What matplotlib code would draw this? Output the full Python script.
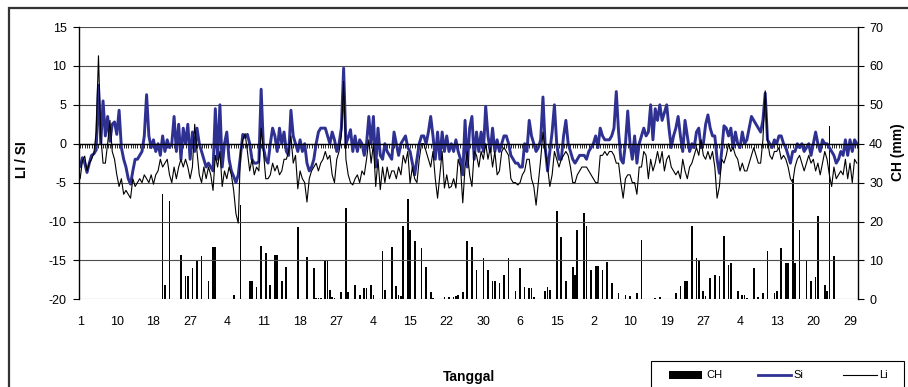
import numpy as np
import matplotlib
matplotlib.use('Agg')
import matplotlib.pyplot as plt
from matplotlib.patches import Rectangle
from matplotlib.lines import Line2D

plt.rcParams['font.family'] = ['Liberation Sans', 'DejaVu Sans']
plt.rcParams['axes.unicode_minus'] = False

# ---------------- data ----------------
date_labels = ['1', '10', '18', '27', '4', '11', '18', '27', '4', '15', '22',
               '30', '6', '15', '2', '10', '19', '27', '4', '13', '20', '29']
label_step = 16

si = [
    -2.9, -1.8, -2.5, -3.7, -2.5, -1.5, -1.3, -0.8, 7.5, 0.0,
    5.5, 1.0, 3.5, 0.3, 2.5, 2.8, 1.2, 4.3, -0.5, -2.0,
    -3.0, -4.5, -5.2, -3.5, -2.0, -2.0, -1.5, -1.0, 1.0, 6.3,
    1.0, -0.5, 0.5, -1.0, 0.0, -1.5, 1.0, -1.0, 0.5, -0.5,
    0.0, 3.5, -1.0, 2.5, -2.0, 2.0, 0.0, 2.5, -2.0, 1.5,
    -1.0, 2.0, 0.0, -1.0, -2.0, -3.0, -2.5, -3.0, -3.5, 4.5,
    -2.0, 5.0, -3.0, 0.0, 1.5, -2.0, -3.5, -4.2, -5.0, -4.0,
    -1.5, 1.2, 0.8, 1.2, 0.0, -2.0, -2.5, -2.5, -2.3, 7.0,
    -0.5, -2.0, -2.5, 0.0, 2.0, 1.0, -1.0, 2.0, 0.0, 1.5,
    -1.0, -1.5, 4.3, 1.0, 0.0, -1.0, 0.5, -1.0, 0.0, -2.5,
    -3.5, -3.0, -2.0, 0.0, 1.5, 2.0, 2.0, 2.0, 1.0, 0.0,
    1.5, 0.5, -1.0, 0.0, 2.0, 9.7, 0.0, 0.8, 1.8, -1.0,
    1.0, -1.0, 0.5, 0.0, -1.5, 0.0, 3.5, 0.0, 3.5, -3.0,
    2.0, -1.5, -2.0, 0.0, -1.0, -1.5, -2.0, 1.5, 0.0, -1.5,
    0.0, 0.5, 1.0, -0.5, -1.0, -2.5, -4.0, -2.0, 0.0, 1.0,
    1.0, 0.0, 1.5, 3.5, 1.0, -2.0, 1.5, -2.0, 1.5, -1.0,
    1.0, -1.0, 0.0, -1.0, 0.5, -1.0, -2.0, -4.0, 3.0, -3.0,
    2.0, 3.5, -2.0, 1.5, -1.0, 1.5, -1.0, 4.8, 1.0, -1.0,
    2.0, -1.0, 0.5, -1.0, 0.0, 1.0, 1.0, 0.0, -1.5, -2.0,
    -2.5, -2.5, -3.0, -3.0, 0.0, -1.0, 3.0, 1.0, 0.0, -1.0,
    -0.5, 0.5, 6.0, -0.5, -3.5, -1.0, 1.5, 5.0, 0.0, -2.0,
    -2.0, 1.0, 3.0, 0.0, -1.0, -2.0, -2.5, -2.0, -1.5, -1.5,
    -1.5, -2.0, -1.0, -0.5, 0.0, 1.0, -0.5, 2.0, 1.0, 0.5,
    0.5, 0.5, 1.0, 2.0, 6.7, 1.5, -2.0, -2.5, 0.0, 4.2,
    0.0, -2.0, 1.0, -2.5, 0.0, 1.0, 2.0, 1.0, 1.5, 5.0,
    0.5, 4.5, 3.0, 5.0, 3.0, 4.0, 5.0, 2.0, -0.5, 1.0,
    2.0, 3.5, 1.0, -1.0, 3.0, 1.0, -1.0, 0.0, -0.5, 1.5,
    2.0, -0.5, 0.0, 2.5, 3.7, 2.0, 1.0, 1.0, -2.0, -3.8,
    -1.0, 2.3, 2.0, 1.0, 2.0, -0.5, 1.5, 0.0, -0.5, 1.5,
    0.0, 0.5, 2.0, 3.5, 3.0, 2.5, 2.0, 1.5, 3.0, 6.5,
    0.5, 0.0, -0.5, 0.5, 0.0, 1.0, 1.0, 0.0, -0.5, -1.5,
    -2.5, -1.0, -1.0, 0.0, -0.5, 0.0, -1.0, -0.5, 0.0, -1.5,
    0.0, 1.5, 0.0, -1.0, 0.5, 0.0, 0.0, -0.5, -1.0, -1.5,
    -2.5, -2.0, -1.0, -1.5, 0.5, -1.5, 0.5, -1.0, 0.5, 0.0,
]

li = [
    -4.5, -2.2, -1.6, -3.5, -2.5, -2.0, -1.2, 1.5, 11.3, 1.0,
    -2.5, -2.5, 0.0, 3.0, -1.0, -2.0, -4.0, -5.5, -4.5, -6.5,
    -6.0, -6.5, -7.0, -4.5, -5.5, -5.0, -4.5, -5.0, -4.0, -4.5,
    -5.0, -4.0, -5.2, -4.0, -3.5, -2.0, -3.0, -2.5, -2.0, -4.0,
    -5.0, -3.0, -4.5, -3.0, -2.0, -3.0, -2.0, -3.0, -4.5, -3.0,
    2.5, -1.0, -4.0, -5.0, -3.0, -4.5, -3.0, -4.0, -6.0, -1.5,
    -3.0, -1.0, -5.5, -3.5, -4.5, -3.0, -4.0, -6.0, -9.0, -10.2,
    -1.0, 0.5, 1.3, -1.0, -3.5, -2.0, -4.0, -3.0, -3.5, 2.0,
    -1.0, -4.5, -4.5, -4.0, -2.5, -3.5, -2.8, -4.0, -3.5, -2.0,
    -2.0, -1.0, 1.0, -2.5, -1.5, -5.8, -3.5, -4.5, -5.0, -7.5,
    -4.5, -3.5, -3.0, -2.5, -3.5, -2.5, -2.0, -1.0, -2.0, -1.5,
    -4.0, -5.0, -2.0, -1.0, 1.0, 8.0, -2.0, -4.0, -5.0, -5.3,
    -4.5, -4.0, -5.0, -3.5, -4.0, -2.0, 0.5, -2.5, 0.0, -5.5,
    -2.0, -5.9, -3.0, -5.0, -3.0, -4.5, -3.5, -3.5, -4.5, -3.0,
    -4.0, -1.5, -2.5, -1.0, -5.1, -3.0, -4.5, -5.0, -2.0, 0.0,
    0.0, -1.0, -2.0, -3.0, -1.0, -4.5, -7.0, -4.0, -1.0, -5.7,
    -4.0, -5.7, -5.5, -4.5, -5.7, -2.0, -3.0, -7.6, -3.0, -1.0,
    -4.0, -5.5, -1.0, -1.5, -3.0, -1.0, -2.0, 0.0, -2.0, -0.5,
    -3.0, -1.0, -4.0, -3.5, -1.0, -0.5, -1.0, -1.5, -4.5, -5.0,
    -5.0, -5.3, -5.0, -4.0, -3.5, -2.0, -2.0, -4.5, -5.5, -7.9,
    -5.0, -2.0, 1.5, -1.0, -3.0, -5.5, -4.0, -1.0, -2.0, -3.0,
    -2.0, -1.5, -1.0, -1.5, -3.0, -5.0, -5.0, -4.0, -3.5, -3.0,
    -3.0, -3.0, -3.5, -4.0, -4.5, -5.0, -5.0, -1.5, -1.5, -1.0,
    -1.5, -1.0, -1.0, -1.5, -2.5, -2.5, -5.0, -7.0, -4.5, -4.0,
    -4.0, -5.0, -5.0, -6.5, -3.0, -3.0, -1.0, -1.5, -4.5, -2.0,
    -3.5, -2.5, -1.0, -2.5, -1.0, -3.5, -2.0, -1.5, -3.0, -3.5,
    -4.0, -3.5, -4.5, -2.0, -3.5, -4.5, -3.0, -2.5, -1.5, -0.5,
    -1.5, 0.5, -1.5, -2.0, -1.0, -2.0, -1.0, -3.0, -7.0, -5.5,
    -2.0, -2.5, -1.5, 0.0, -1.0, -0.5, -1.5, -2.0, -3.5, -2.5,
    -3.5, -3.5, -2.5, -1.5, -0.5, -1.5, -2.5, -2.5, 0.5, 6.8,
    0.5, -1.5, -2.0, -1.0, -1.0, -0.5, -2.0, -1.5, -2.0, -3.0,
    -4.5, -5.0, -3.0, -2.0, -1.5, -2.5, -3.5, -2.5, -1.5, -2.5,
    -2.0, -3.5, -2.5, -4.0, -2.5, -1.0, -2.0, -4.0, -5.5, -3.0,
    -4.5, -4.0, -3.5, -4.0, -2.0, -4.5, -2.5, -5.0, -2.0, -2.5,
]

ch = [
    0, 0, 0, 0, 0, 0, 0, 0, 0, 0,
    0, 0, 0, 0, 0, 0, 0, 0, 0, 0,
    0, 0, 0, 0, 0, 0, 0, 0, 0, 0,
    0, 0, 0, 0, 0, 0, 27.1, 3.7, 0, 25.3,
    0, 0, 0, 0, 11.3, 0, 6.0, 6.0, 0, 8.0,
    0, 10.1, 0, 11.1, 0, 0, 4.7, 0, 13.4, 13.4,
    0, 0, 0, 0, 0, 0, 0, 1.1, 0, 0,
    24.2, 0, 0, 0, 4.7, 4.7, 0, 3.1, 0, 13.7,
    0, 12.0, 0, 3.7, 0, 11.4, 11.4, 0, 4.7, 0,
    8.2, 0, 0, 0, 0, 18.7, 0, 0, 0, 10.8,
    0, 0, 8.0, 0.3, 0.3, 0.3, 0, 10.1, 10.1, 2.4,
    0.5, 0.3, 0, 0, 1.9, 0, 23.4, 1.9, 0, 0,
    3.7, 0, 1.1, 0, 2.8, 2.8, 0, 3.7, 1.1, 0,
    0, 0, 12.3, 2.4, 0, 0, 13.5, 0, 3.3, 1.1,
    0.9, 18.9, 0, 25.7, 17.7, 0, 15.0, 0, 0, 13.1,
    0, 8.2, 0, 1.8, 0.3, 0, 0, 0, 0, 0.7,
    0, 0.5, 0, 0.7, 0.9, 1.1, 0, 1.9, 0, 15.0,
    0, 13.4, 0, 7.5, 0, 0, 10.5, 0, 7.5, 0,
    4.7, 4.7, 0, 4.1, 0, 6.3, 0, 10.5, 0, 0,
    2.1, 0, 8.0, 0, 3.1, 0, 2.8, 2.8, 0.5, 0,
    0, 0, 0, 2.1, 3.1, 2.4, 0, 0, 22.7, 0,
    15.9, 0, 4.7, 0, 0, 8.2, 6.3, 17.8, 0, 0,
    22.3, 18.9, 0, 7.5, 0, 8.6, 8.6, 0, 7.5, 0,
    9.7, 0, 4.1, 0, 0, 1.5, 0, 0, 1.1, 0,
    0.9, 0, 0, 1.5, 0, 15.3, 0, 0, 0, 0,
    0, 0.3, 0, 0.5, 0, 0, 0, 0, 0, 0,
    1.5, 0, 3.4, 0, 4.7, 4.7, 0, 18.9, 0, 10.5,
    9.9, 0, 2.1, 0.9, 0, 5.4, 0, 6.3, 0, 6.0,
    0, 16.3, 0, 8.8, 9.3, 0, 0, 2.1, 0, 1.1,
    1.1, 0.4, 0, 0, 8.0, 0, 0.5, 0, 1.5, 0,
    12.3, 0, 0, 1.5, 2.1, 0, 13.1, 0, 9.3, 9.3,
    0, 31.0, 9.3, 0, 17.8, 0, 0, 9.9, 0, 4.7,
    0, 5.8, 21.4, 0, 0, 3.7, 2.1, 44.5, 0, 11.1,
    0, 0, 0, 0, 0, 0, 0, 0, 0, 0,
]

# ---------------- figure ----------------
W, H = 908, 387
fig = plt.figure(figsize=(W / 100, H / 100), dpi=100)


def fx(px):
    return px / W


def fy(py):
    return 1 - py / H


SI_COLOR = '#2E3192'
GRID = '#4d4d4d'

ax = fig.add_axes([fx(79), fy(299.3), (858 - 79) / W, (299.3 - 27) / H])
ax2 = ax.twinx()
ax.set_zorder(2)
ax2.set_zorder(1)
ax.patch.set_visible(False)

x = np.arange(len(si))
ax2.bar(x, ch, width=0.75, color='black', linewidth=0)
ax.plot(x, si, color=SI_COLOR, lw=2.1, solid_joinstyle='round')
ax.plot(x, li, color='black', lw=0.8)

ax.set_xlim(-0.5, len(si) - 0.5)
ax.set_ylim(-20, 15)
ax.set_yticks(np.arange(-20, 16, 5))
ax2.set_ylim(0, 70)
ax2.set_yticks(np.arange(0, 71, 10))
ax.yaxis.grid(True, color=GRID, lw=0.8)
ax.set_axisbelow(True)

ax.spines['top'].set_visible(False)
ax.spines['right'].set_visible(False)
ax.spines['bottom'].set_position(('data', 0))
ax.spines['bottom'].set_linewidth(1.0)
ax.spines['left'].set_linewidth(1.0)
ax.set_xticks(x)
ax.tick_params(axis='x', length=3, width=0.6, direction='out', labelbottom=False)
ax.tick_params(axis='y', length=4, width=0.8, labelsize=9, pad=5)
for s in ['top', 'bottom', 'left']:
    ax2.spines[s].set_visible(False)
ax2.spines['right'].set_linewidth(1.0)
ax2.tick_params(axis='y', length=4, width=0.8, labelsize=9, pad=4)

sec = ax.secondary_xaxis(0.0)
sec.set_xticks(x[::label_step], date_labels)
sec.tick_params(length=0, pad=12, labelsize=9)
sec.spines['bottom'].set_visible(False)

# axis titles
fig.text(fx(21.7), fy(160), 'LI / SI', rotation=90, ha='center', va='center',
         fontsize=10, fontweight='bold')
fig.text(fx(897.7), fy(152), 'CH (mm)', rotation=90, ha='center', va='center',
         fontsize=10, fontweight='bold')
fig.text(fx(469), fy(377), 'Tanggal', ha='center', va='center',
         fontsize=10, fontweight='bold')

# outer chart border
fig.add_artist(Rectangle((fx(9), -0.05), 1.2, fy(8.3) + 0.05,
                         transform=fig.transFigure, fill=False,
                         ec='#333333', lw=1.6))

# legend
fig.add_artist(Rectangle((fx(651), fy(392)), (904 - 651) / W, (392 - 361) / H,
                         transform=fig.transFigure, fc='white', ec='black', lw=0.8))
fig.add_artist(Rectangle((fx(669), fy(379.3)), 33 / W, 8.6 / H,
                         transform=fig.transFigure, fc='black', ec='none'))
fig.text(fx(706), fy(374.5), 'CH', ha='left', va='center', fontsize=8)
fig.add_artist(Line2D([fx(758), fx(791)], [fy(374.5)] * 2,
                      transform=fig.transFigure, color=SI_COLOR, lw=2.0))
fig.text(fx(793), fy(374.5), 'Si', ha='left', va='center', fontsize=8)
fig.add_artist(Line2D([fx(843), fx(877)], [fy(374.5)] * 2,
                      transform=fig.transFigure, color='black', lw=0.8))
fig.text(fx(879), fy(374.5), 'Li', ha='left', va='center', fontsize=8)

fig.savefig('out.png', dpi=100)
